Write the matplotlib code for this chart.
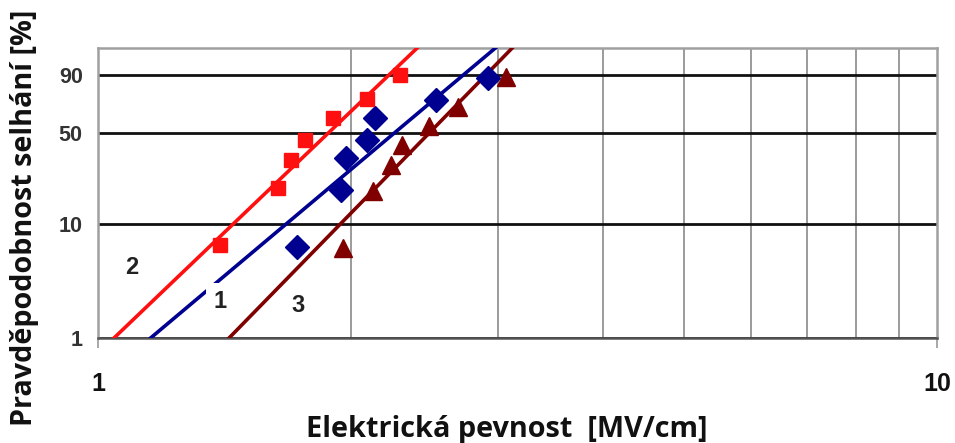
import numpy as np
import matplotlib
matplotlib.use("Agg")
from matplotlib import pyplot as plt

# Electric strength [MV/cm] and failure probability [%]
e_1 = [1.727, 1.949, 1.975, 2.092, 2.139, 2.528, 2.917]
f_1 = [6.3, 19.1, 33.7, 44.9, 60.9, 74.4, 88.3]
e_2 = [1.398, 1.639, 1.698, 1.765, 1.906, 2.092, 2.291]
f_2 = [6.6, 19.9, 32.6, 44.9, 60.9, 75.1, 89.8]
e_3 = [1.959, 2.127, 2.235, 2.303, 2.480, 2.686, 3.064]
f_3 = [6.2, 18.8, 30.0, 41.6, 54.9, 69.3, 88.9]

# Weibull fit lines: scale E0 [MV/cm] and shape beta
fit_scale = [2.390, 1.980, 2.603]
fit_shape = [6.34, 7.21, 7.72]

series_names = ["1", "2", "3"]
label_e = [1.398, 1.098, 1.731]
label_f = [2.08, 4.23, 1.95]

colors = ["#000090", "#ff1010", "#800000"]
markers = ["D", "s", "^"]
marker_sizes = [12, 10.5, 13]

y_ticks = [1, 10, 50, 90]
x_ticks = [1, 10]


def weibull_fwd(p):
    p = np.clip(np.asarray(p, dtype=float), 1e-6, 100 - 1e-9)
    return np.log(-np.log(1 - p / 100))


def weibull_inv(u):
    return 100 * (1 - np.exp(-np.exp(u)))


plt.rcParams["font.family"] = ["Liberation Sans", "DejaVu Sans"]

fig = plt.figure(figsize=(9.55, 4.43), dpi=100)
ax = fig.add_axes([98 / 955, 105.4 / 443, 839 / 955, 289.6 / 443])
ax.set_xscale("log")
ax.set_yscale("function", functions=(weibull_fwd, weibull_inv))
ax.set_xlim(1, 10)
ax.set_ylim(1, 98.2)

e_grid = np.geomspace(1, 4, 400)
data = [(e_1, f_1), (e_2, f_2), (e_3, f_3)]
for (e, f), e0, beta, c, m, ms in zip(data, fit_scale, fit_shape, colors, markers, marker_sizes):
    cdf = 100 * (1 - np.exp(-(e_grid / e0) ** beta))
    ax.plot(e_grid, cdf, color=c, lw=2.6, zorder=3, solid_capstyle="butt")
    ax.plot(e, f, ls="none", marker=m, ms=ms, color=c, mec=c, zorder=4)

for name, x, y in zip(series_names, label_e, label_f):
    ax.text(x, y, name, fontsize=17, fontweight="bold", color="#222222",
            ha="center", va="center", zorder=5,
            bbox=dict(boxstyle="square,pad=0.3", fc="white", ec="none") if name == "1" else None)

ax.set_yticks(y_ticks)
ax.set_yticklabels([str(t) for t in y_ticks])
ax.set_xticks(x_ticks)
ax.set_xticklabels([str(t) for t in x_ticks])
ax.set_xticks([2, 3, 4, 5, 6, 7, 8, 9], minor=True)
ax.set_xticklabels([], minor=True)
ax.yaxis.set_minor_locator(plt.NullLocator())

ax.grid(axis="x", which="minor", color="#8a8a8a", lw=1.2, zorder=1)
ax.grid(axis="y", which="major", color="#111111", lw=2.0, zorder=1)

ax.tick_params(axis="x", which="major", length=7, width=1.2, color="#999999",
               pad=18, labelsize=18, labelcolor="#111111")
ax.tick_params(axis="x", which="minor", length=0)
ax.tick_params(axis="y", length=0, pad=11, labelsize=15.5, labelcolor="#333333")
for lab in ax.get_xticklabels() + ax.get_yticklabels():
    lab.set_fontweight("bold")

for side in ["left", "right", "top"]:
    ax.spines[side].set_color("#a0a0a0")
    ax.spines[side].set_linewidth(1.8)
ax.spines["bottom"].set_color("#555555")
ax.spines["bottom"].set_linewidth(1.8)

fig.text(25 / 955, 1 - 218 / 443, "Pravděpodobnost selhání [%]", rotation=90,
         ha="center", va="center", fontsize=20.7, fontweight="bold",
         family=["Open Sans", "DejaVu Sans"], color="#111111")
fig.text(507 / 955, 1 - 430 / 443, "Elektrická pevnost  [MV/cm]",
         ha="center", va="center", fontsize=20.8, fontweight="bold",
         family=["Open Sans", "DejaVu Sans"], color="#111111")

fig.savefig("out.png", dpi=100)
